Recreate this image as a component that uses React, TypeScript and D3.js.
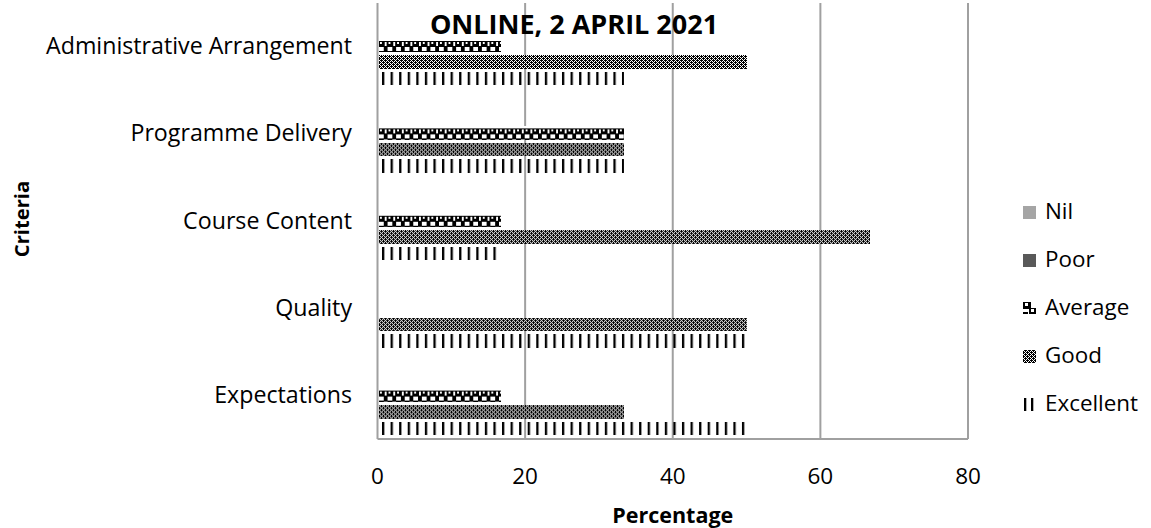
import React from 'react';
import * as d3 from 'd3';

const categories = ['Expectations', 'Quality', 'Course Content ', 'Programme Delivery', 'Administrative Arrangement'];
const seriesOrder = ['Excellent', 'Good', 'Average', 'Poor', 'Nil'];
const excellent = [50, 50, 16.67, 33.33, 33.33];
const good = [33.33, 50, 66.67, 33.33, 50];
const average = [16.67, 0, 16.67, 33.33, 16.67];
const poor = [0, 0, 0, 0, 0];
const nil = [0, 0, 0, 0, 0];
const xTicks = [0, 20, 40, 60, 80];
const legendItems = ['Nil', 'Poor', 'Average', 'Good', 'Excellent'];

const W = 1151;
const H = 528;
const FONT = '"Open Sans", Lato, sans-serif';

export default function App() {
  const left = 377.5, right = 968, top = 2, bottom = 439;
  const x = d3.scaleLinear().domain([0, 80]).range([left, right]);
  const y = d3.scaleBand<string>().domain([...categories].reverse()).range([top, bottom]).padding(0);
  const inner = d3.scaleBand<string>().domain([...seriesOrder].reverse()).range([0, y.bandwidth()]).paddingInner(0).paddingOuter(0.15);
  const valuesBy: Record<string, number[]> = { Excellent: excellent, Good: good, Average: average, Poor: poor, Nil: nil };
  const fills: Record<string, string> = {
    Excellent: 'url(#pExc)',
    Good: 'url(#pGood)',
    Average: 'url(#pAvg)',
    Poor: '#595959',
    Nil: '#a5a5a5',
  };
  const inset = 1.5;
  const grid = '#a0a0a0';

  const checker: [number, number][] = [];
  for (let r = 0; r < 4; r++) for (let c = 0; c < 4; c++) if ((r + c) % 2 === 0) checker.push([c, r]);

  return (
    <svg width={W} height={H} style={{ position: 'absolute', left: 0, top: 0, display: 'block', background: '#fff' }} fontFamily={FONT}>
      <defs>
        <pattern id="pExc" patternUnits="userSpaceOnUse" width={8.57} height={40} x={382}>
          <rect x={0} y={0} width={2.3} height={40} fill="#000" />
        </pattern>
        <pattern id="pGood" patternUnits="userSpaceOnUse" width={4} height={4} x={378} y={0}>
          <rect width={4} height={4} fill="#fff" />
          {checker.map(([cx, cy], k) => (
            <rect key={k} x={cx} y={cy} width={1} height={1} fill="#000" shapeRendering="crispEdges" />
          ))}
          <rect x={1} y={0} width={1} height={1} fill="#000" shapeRendering="crispEdges" />
          <rect x={3} y={2} width={1} height={1} fill="#000" shapeRendering="crispEdges" />
        </pattern>
        <pattern id="pAvg" patternUnits="userSpaceOnUse" width={8.57} height={88} x={379}>
          <rect width={8.57} height={88} fill="#fff" />
          {y.domain().map((c) => {
            const yy = Math.round((y(c) as number) + (inner('Average') as number) + inset);
            return (
              <g key={c} shapeRendering="crispEdges">
                <rect x={0} y={yy} width={4.5} height={6} fill="#000" />
                <rect x={4.5} y={yy} width={4} height={6} fill="#000" />
                <rect x={5.5} y={yy + 1} width={2.5} height={4} fill="#fff" />
                <rect x={4.5} y={yy + 6} width={4} height={5} fill="#000" />
                <rect x={0} y={yy + 10} width={4.5} height={1.5} fill="#000" />
                <rect x={1} y={yy + 1} width={2} height={2} fill="#fff" />
              </g>
            );
          })}
        </pattern>
      </defs>

      {/* gridlines */}
      {xTicks.map((t) => (
        <line key={t} x1={x(t)} x2={x(t)} y1={3} y2={bottom} stroke={grid} strokeWidth={2} />
      ))}
      <line x1={left} x2={right} y1={bottom} y2={bottom} stroke={grid} strokeWidth={2} />

      {/* bars */}
      {categories.map((c, i) => (
        <g key={c} transform={`translate(0,${y(c)})`}>
          {seriesOrder.map((s) => {
            const v = valuesBy[s][i];
            if (v <= 0) return null;
            return (
              <rect
                key={s}
                x={x(0) + 1}
                y={(inner(s) as number) + inset}
                width={x(v) - x(0) - 1}
                height={inner.bandwidth() - 2 * inset}
                fill={fills[s]}
                shapeRendering="crispEdges"
              />
            );
          })}
        </g>
      ))}

      {/* category labels */}
      {categories.map((c) => (
        <text key={c} x={352} y={(y(c) as number) + y.bandwidth() / 2} dy="0.35em" textAnchor="end" fontSize={23.2} fill="#000">
          {c.trim()}
        </text>
      ))}

      {/* x tick labels */}
      {xTicks.map((t) => (
        <text key={t} x={x(t)} y={484} textAnchor="middle" fontSize={22.5} fill="#000">
          {t}
        </text>
      ))}

      {/* axis titles */}
      <text x={(left + right) / 2} y={523} textAnchor="middle" fontSize={21.5} fontWeight="bold" fill="#000">Percentage</text>
      <text transform="translate(29,219) rotate(-90)" textAnchor="middle" fontSize={20.2} fontWeight="bold" fill="#000">Criteria</text>

      {/* title */}
      <text x={574} y={34} textAnchor="middle" fontSize={27} fontWeight="bold" fill="#000">ONLINE, 2 APRIL 2021</text>

      {/* legend */}
      {legendItems.map((s, i) => {
        const by = 219 + i * 48;
        let key: React.ReactNode;
        if (s === 'Excellent') {
          key = (
            <g>
              <rect x={1024} y={by - 13} width={2.3} height={13} fill="#000" />
              <rect x={1031} y={by - 13} width={2.3} height={13} fill="#000" />
            </g>
          );
        } else if (s === 'Average') {
          key = (
            <g shapeRendering="crispEdges">
              <rect x={1023} y={by - 13} width={13} height={13} fill="#fff" />
              <rect x={1023} y={by - 13} width={8} height={7} fill="#000" />
              <rect x={1025} y={by - 12} width={3} height={3} fill="#fff" />
              <rect x={1029} y={by - 7} width={7} height={6} fill="#000" />
              <rect x={1031} y={by - 6} width={3} height={3} fill="#fff" />
              <rect x={1023} y={by - 3} width={5} height={2} fill="#000" />
            </g>
          );
        } else {
          key = <rect x={1023} y={by - 13} width={13} height={13} fill={s === 'Good' ? 'url(#pGood)' : s === 'Poor' ? '#595959' : '#a5a5a5'} />;
        }
        return (
          <g key={s}>
            {key}
            <text x={1045} y={by} fontSize={22.4} fill="#000">{s}</text>
          </g>
        );
      })}
    </svg>
  );
}
